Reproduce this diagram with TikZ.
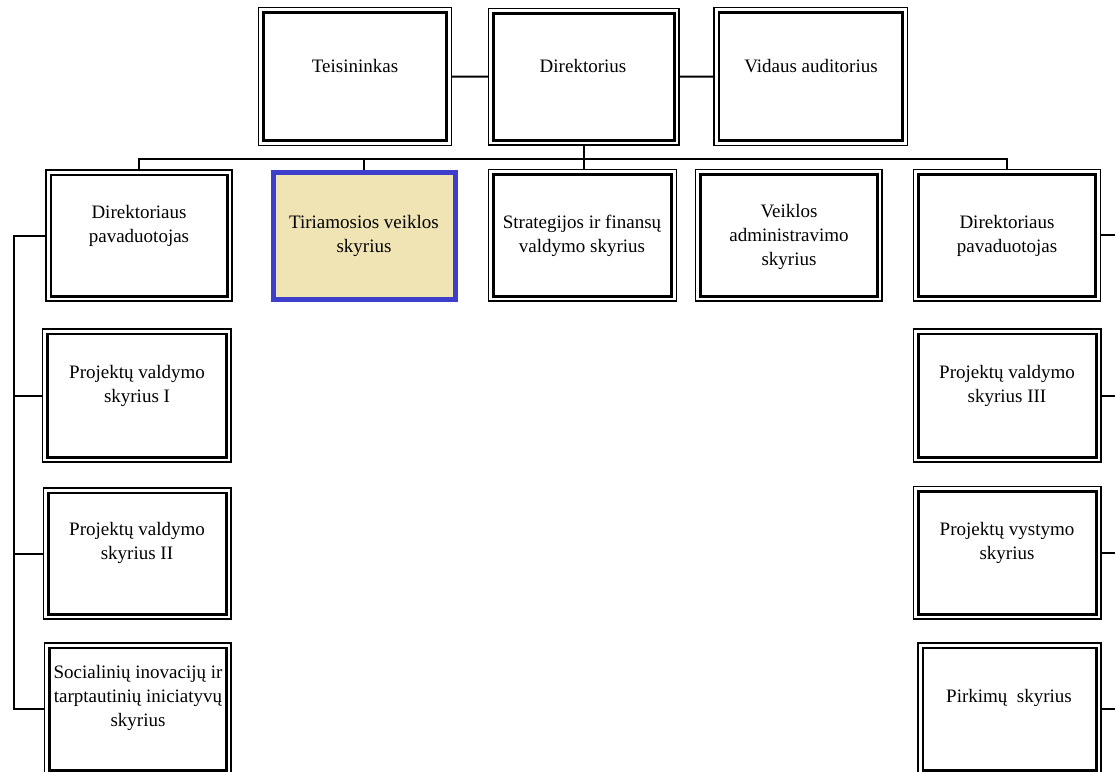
\documentclass[tikz,border=0pt]{standalone}
\usepackage{fontspec}
\setmainfont{Liberation Serif}
\usetikzlibrary{fit,calc}
\definecolor{tirblue}{RGB}{62,62,205}
\definecolor{tirfill}{RGB}{240,228,180}
\tikzset{
  outerbox/.style={draw, line width=1.5pt, inner sep=0pt, outer sep=0pt},
  innerline/.style={draw, line width=2.6pt},
  tirbox/.style={draw=tirblue, fill=tirfill, line width=5pt, inner sep=-2.5pt, outer sep=2.5pt},
  lbl/.style={align=center, inner sep=0pt, font=\fontsize{19}{24}\selectfont},
  conn/.style={line width=2pt}
}
\newcommand\mkbox[5]{%
  \path (#2,#3) coordinate (#1-a) (#4,#5) coordinate (#1-b);
  \node[outerbox, fit=(#1-a)(#1-b)] (#1) {};
  \draw[innerline] ($(#1.north west)+(4.8,4.8)$) rectangle ($(#1.south east)+(-4.8,-4.8)$);
}
\begin{document}
\begin{tikzpicture}[x=1pt,y=-1pt]
\useasboundingbox (0,0) rectangle (1115,771);
% top row
\mkbox{teis}{258.5}{7.5}{451.5}{145.5}
\mkbox{dir}{488.5}{8.5}{679}{145}
\mkbox{vid}{714}{7.5}{907.5}{145.5}
% second row
\mkbox{dpl}{46}{170}{232}{301}
\path (270.5,170) coordinate (tir-a) (458,302) coordinate (tir-b);
\node[tirbox, fit=(tir-a)(tir-b)] (tir) {};
\mkbox{str}{488.5}{169.5}{676.5}{301}
\mkbox{vei}{695.5}{169.5}{882}{301}
\mkbox{dpr}{913.5}{169.5}{1100.5}{301}
% left column
\mkbox{pv1}{42.5}{329}{231}{462}
\mkbox{pv2}{43.5}{488}{231}{619}
\mkbox{soc}{44.5}{643}{231}{775}
% right column
\mkbox{pv3}{913.5}{329}{1101}{462}
\mkbox{vys}{913.5}{486.5}{1101}{619}
\mkbox{pir}{918}{643}{1101}{775}
% labels
\node[lbl] (t1) at (355,66) {Teisininkas};
\node[lbl] (t2) at (583,66) {Direktorius};
\node[lbl] (t3) at (811,66) {Vidaus auditorius};
\node[lbl] (t4) at (139,226) {Direktoriaus\\pavaduotojas};
\node[lbl] (t5) at (364,236) {Tiriamosios veiklos\\skyrius};
\node[lbl] (t6) at (582,236) {Strategijos ir finansų\\valdymo skyrius};
\node[lbl] (t7) at (789,237) {Veiklos\\administravimo\\skyrius};
\node[lbl] (t8) at (1007,236) {Direktoriaus\\pavaduotojas};
\node[lbl] (t9) at (137,386) {Projektų valdymo\\skyrius I};
\node[lbl] (t10) at (137,543) {Projektų valdymo\\skyrius II};
\node[lbl] (t11) at (138,698) {Socialinių inovacijų ir\\tarptautinių iniciatyvų\\skyrius};
\node[lbl] (t12) at (1007,386) {Projektų valdymo\\skyrius III};
\node[lbl] (t13) at (1007,543) {Projektų vystymo\\skyrius};
\node[lbl] (t14) at (1009,698) {Pirkimų\ \ skyrius};
% connectors
\coordinate (bus) at (0,158.5);
\coordinate (lsp) at (14,0);
\coordinate (rsp) at (1116,0);
\draw[conn] (teis.east) -- (dir.west);
\draw[conn] (dir.east) -- (vid.west);
\draw[conn] (dir.south) -- (dir.south |- str.north);
\draw[conn] (dpl.north) -- (dpl.north |- bus) -- (dpr.north |- bus) -- (dpr.north);
\draw[conn] (tir.north) -- (tir.north |- bus);
\draw[conn] (dpl.west) -- (dpl.west -| lsp) -- (soc.west -| lsp) -- (soc.west);
\draw[conn] (pv1.west) -- (pv1.west -| lsp);
\draw[conn] (pv2.west) -- (pv2.west -| lsp);
\draw[conn] (dpr.east) -- (dpr.east -| rsp);
\draw[conn] (pv3.east) -- (pv3.east -| rsp);
\draw[conn] (vys.east) -- (vys.east -| rsp);
\draw[conn] (pir.east) -- (pir.east -| rsp);
\end{tikzpicture}
\end{document}
